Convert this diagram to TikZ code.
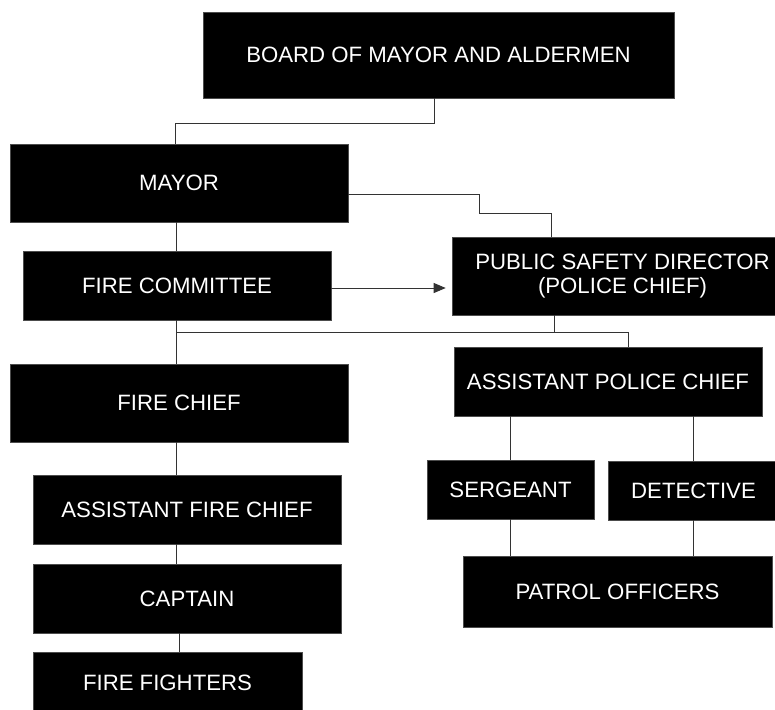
\documentclass[tikz,border=0pt]{standalone}
\usepackage{fontspec}
\setmainfont{Liberation Sans}
\usetikzlibrary{arrows.meta}
\tikzset{
  orgbox/.style={fill=black, draw=black!70, line width=0.6pt, text=white, inner sep=0pt, align=center,
    font=\fontsize{22.2}{24.5}\selectfont},
  conn/.style={draw=black!80, line width=0.9pt},
  arr/.style={conn, -{Triangle[length=12pt,width=10pt]}, shorten >=6pt}
}
\begin{document}
\begin{tikzpicture}[x=1pt,y=-1pt]
\useasboundingbox (0,0) rectangle (775,709);
\clip (0,0) rectangle (775,709);
% boxes
\node[orgbox, minimum width=471, minimum height=86] (board) at (438.5,55) {BOARD OF MAYOR AND ALDERMEN};
\node[orgbox, minimum width=338, minimum height=78] (mayor) at (179,183) {MAYOR};
\node[orgbox, minimum width=308, minimum height=69] (fc) at (177,285.5) {FIRE COMMITTEE};
\node[orgbox, minimum width=341, minimum height=78] (psd) at (622.5,276) {PUBLIC SAFETY DIRECTOR\\(POLICE CHIEF)};
\node[orgbox, minimum width=338, minimum height=78] (fchief) at (179,403) {FIRE CHIEF};
\node[orgbox, minimum width=308, minimum height=69] (apc) at (608,381.5) {ASSISTANT POLICE CHIEF};
\node[orgbox, minimum width=167, minimum height=59] (sgt) at (510.5,489.5) {SERGEANT};
\node[orgbox, minimum width=170, minimum height=59] (det) at (693.5,490.5) {DETECTIVE};
\node[orgbox, minimum width=308, minimum height=69] (afc) at (187,509.5) {ASSISTANT FIRE CHIEF};
\node[orgbox, minimum width=308, minimum height=69] (cap) at (187,598.5) {CAPTAIN};
\node[orgbox, minimum width=309, minimum height=71] (patrol) at (617.5,591.5) {PATROL OFFICERS};
\node[orgbox, minimum width=269, minimum height=62] (ff) at (167.5,683) {FIRE FIGHTERS};
% helper coordinates
\coordinate (bm) at (434.5,123);
\coordinate (bmx) at (175,0);
\coordinate (mp1) at (479,194.5);
\coordinate (mp2) at (551,213);
\coordinate (lx) at (176,0);
\coordinate (br) at (176,332);
\coordinate (apcx) at (628,0);
\coordinate (psdx) at (554,0);
\coordinate (ay) at (0,288);
\coordinate (ffx) at (179,0);
% connectors
\draw[conn] (board.south -| bm) -- (bm) -| (mayor.north -| bmx);
\draw[conn] (mayor.east |- mp1) -- (mp1) |- (mp2) -- (psd.north -| mp2);
\draw[conn] (mayor.south -| lx) -- (fc.north -| lx);
\draw[conn] (fc.south -| lx) -- (fchief.north -| lx);
\draw[conn] (br) -| (apc.north -| apcx);
\draw[conn] (psd.south -| psdx) -- (psdx |- br);
\draw[arr] (fc.east |- ay) -- (psd.west |- ay);
\draw[conn] (fchief.south -| lx) -- (afc.north -| lx);
\draw[conn] (afc.south -| lx) -- (cap.north -| lx);
\draw[conn] (cap.south -| ffx) -- (ff.north -| ffx);
\draw[conn] (apc.south -| sgt.north) -- (sgt.north);
\draw[conn] (apc.south -| det.north) -- (det.north);
\draw[conn] (sgt.south) -- (patrol.north -| sgt.south);
\draw[conn] (det.south) -- (patrol.north -| det.south);
\end{tikzpicture}
\end{document}
